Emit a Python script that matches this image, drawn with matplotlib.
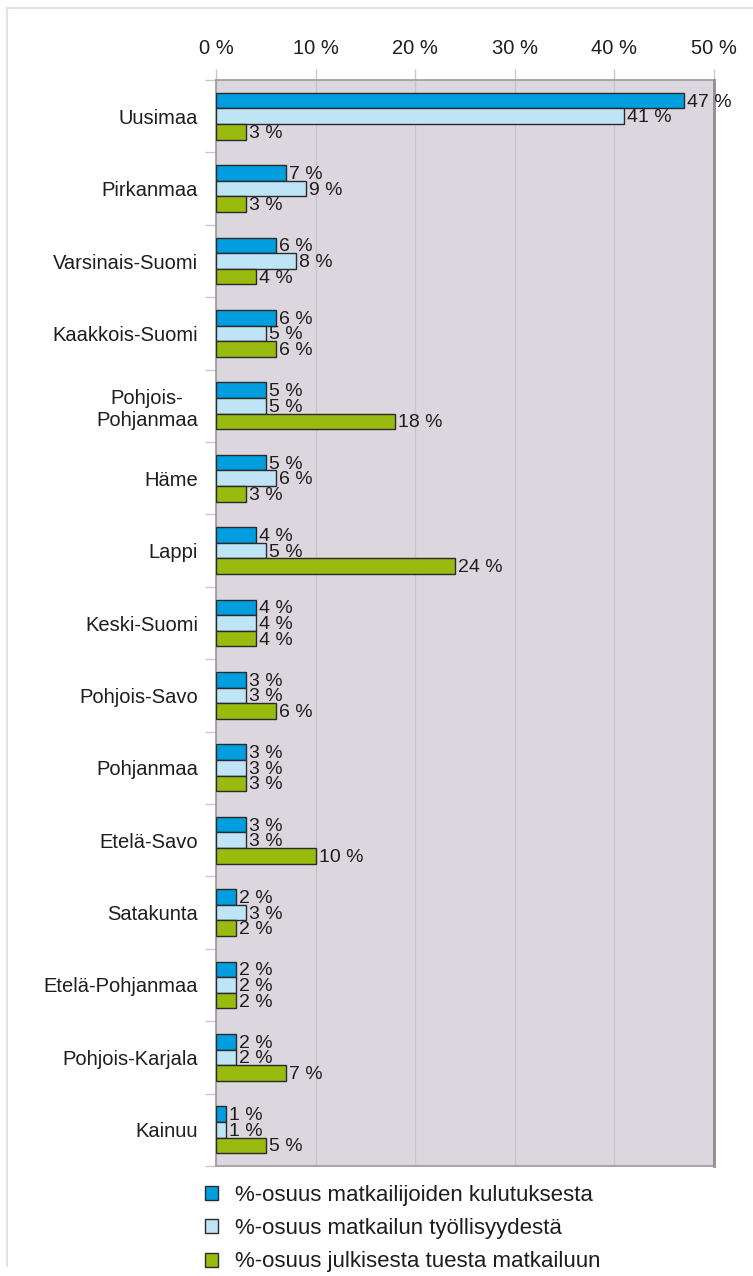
import numpy as np
import matplotlib
matplotlib.use("Agg")
import matplotlib.pyplot as plt
import matplotlib.patches as patches
from matplotlib.lines import Line2D

plt.rcParams['font.family'] = ['Liberation Sans', 'DejaVu Sans']

regions = ["Uusimaa", "Pirkanmaa", "Varsinais-Suomi", "Kaakkois-Suomi",
           "Pohjois-\nPohjanmaa", "Häme", "Lappi", "Keski-Suomi", "Pohjois-Savo",
           "Pohjanmaa", "Etelä-Savo", "Satakunta", "Etelä-Pohjanmaa",
           "Pohjois-Karjala", "Kainuu"]
kulutus = [47, 7, 6, 6, 5, 5, 4, 4, 3, 3, 3, 2, 2, 2, 1]
tyollisyys = [41, 9, 8, 5, 5, 6, 5, 4, 3, 3, 3, 3, 2, 2, 1]
tuki = [3, 3, 4, 6, 18, 3, 24, 4, 6, 3, 10, 2, 2, 7, 5]
series_names = ["%-osuus matkailijoiden kulutuksesta",
                "%-osuus matkailun työllisyydestä",
                "%-osuus julkisesta tuesta matkailuun"]
x_ticks = [0, 10, 20, 30, 40, 50]

colors = ["#009EDF", "#BFE4F6", "#99BB0F"]
edge = "#2A2A2A"
text_col = "#1E1E1E"
fs = 14.5

fig = plt.figure(figsize=(7.53, 12.76), dpi=100)
ax = fig.add_axes([216 / 753, 1 - 1166 / 1276, 498 / 753, 1086 / 1276])
ax.set_facecolor("#DCD6DE")

y = np.arange(len(regions))
h = 0.215
offsets = [-h, 0, h]
for vals, off, c in zip([kulutus, tyollisyys, tuki], offsets, colors):
    bars = ax.barh(y + off, vals, height=h, color=c, edgecolor=edge, linewidth=1.0, zorder=3)
    for b, v in zip(bars, vals):
        ax.text(b.get_width() + 0.3, b.get_y() + b.get_height() / 2 + 0.02, f"{v} %",
                va="center", ha="left", fontsize=fs - 0.5, color=text_col, zorder=4)

ax.set_xlim(0, 50)
ax.set_ylim(len(regions) - 0.5, -0.5)

# x axis on top
ax.xaxis.tick_top()
ax.set_xticks(x_ticks)
ax.set_xticklabels([f"{t} %" for t in x_ticks])
ax.tick_params(axis="x", which="major", length=8, width=1, color="#C8C8C8",
               pad=8, labelsize=fs, labelcolor=text_col)
ax.grid(axis="x", color="#C9C3CA", linewidth=1, zorder=0)

# categories: boundary ticks (major) and labels (minor)
ax.set_yticks(np.arange(len(regions) + 1) - 0.5)
ax.set_yticklabels([])
ax.tick_params(axis="y", which="major", length=8, width=1, color="#C8C8C8")
ax.set_yticks(y, minor=True)
ax.set_yticklabels(regions, minor=True, multialignment="center")
ax.tick_params(axis="y", which="minor", length=0, pad=13, labelsize=fs, labelcolor=text_col)

for s in ["top", "left", "bottom"]:
    ax.spines[s].set_color("#9A9A9A")
    ax.spines[s].set_linewidth(1.2)
ax.spines["right"].set_color("#8E8E8E")
ax.spines["right"].set_linewidth(2)

# legend
handles = [patches.Patch(facecolor=c, edgecolor=edge, linewidth=1.0) for c in colors]
fig.legend(handles, series_names, loc="upper left", bbox_to_anchor=(205 / 753, 1 - 1185 / 1276),
           frameon=False, fontsize=16, borderpad=0, borderaxespad=0, handlelength=0.6,
           handleheight=0.6, handletextpad=0.75, labelspacing=0.55, labelcolor=text_col)

# faint outer frame (top and left edge)
fig.add_artist(Line2D([7 / 753, 1], [1 - 8 / 1276] * 2, color="#E2E2E2", linewidth=1.5))
fig.add_artist(Line2D([7 / 753] * 2, [0.008, 1 - 8 / 1276], color="#E2E2E2", linewidth=1.5))

fig.savefig("out.png", dpi=100)
